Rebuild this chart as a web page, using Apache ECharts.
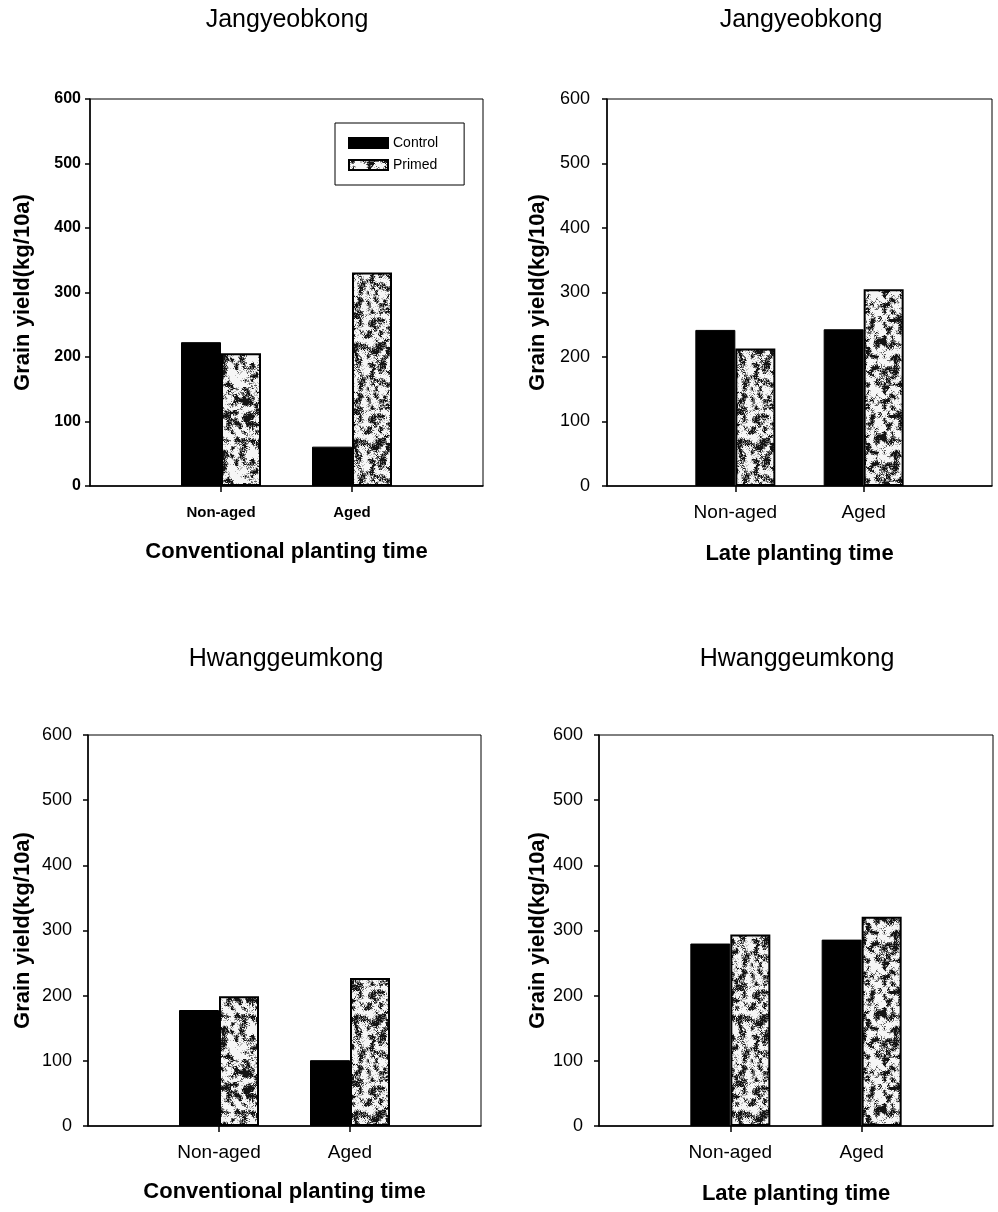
<!DOCTYPE html>
<html>
<head>
<meta charset="utf-8">
<title>Grain yield</title>
<script src="https://cdn.jsdelivr.net/npm/echarts@6/dist/echarts.min.js"></script>
<style>
  html, body { margin: 0; padding: 0; background: #fff; }
  #chart { width: 998px; height: 1212px; }
</style>
</head>
<body>
<div id="chart"></div>
<script>
// Category slots: blank ends keep the two treatment groups at 1/3 and 2/3 of each axis
const categories = ['', 'Non-aged', 'Aged', ''];
const seriesNames = ['Control', 'Primed'];
const yTicks = [0, 100, 200, 300, 400, 500, 600];

const panelTitles = ['Jangyeobkong', 'Jangyeobkong', 'Hwanggeumkong', 'Hwanggeumkong'];
const panelXNames = ['Conventional planting time', 'Late planting time',
                     'Conventional planting time', 'Late planting time'];
const yName = 'Grain yield(kg/10a)';

// Grain yield (kg/10a) for [Non-aged, Aged]
const jangConvControl = [223, 61];
const jangConvPrimed  = [206, 331];
const jangLateControl = [242, 243];
const jangLatePrimed  = [213, 305];
const hwangConvControl = [178, 101];
const hwangConvPrimed  = [199, 227];
const hwangLateControl = [280, 286];
const hwangLatePrimed  = [294, 321];

const panelControl = [jangConvControl, jangLateControl, hwangConvControl, hwangLateControl];
const panelPrimed  = [jangConvPrimed, jangLatePrimed, hwangConvPrimed, hwangLatePrimed];

// Speckled fill used for the primed bars (deterministic hash noise)
function makeSpeckle() {
  const S = 96, cell = 4, n = S / cell;
  const c = document.createElement('canvas');
  c.width = c.height = S;
  const ctx = c.getContext('2d');
  const img = ctx.createImageData(S, S);
  function hash(x, y, s) {
    let h = Math.imul(x, 374761393) + Math.imul(y, 668265263) + Math.imul(s, 2246822519);
    h = Math.imul(h ^ (h >>> 13), 1274126177);
    h = h ^ (h >>> 16);
    return (h >>> 0) / 4294967296;
  }
  function coarse(x, y) {
    const gx = x / cell, gy = y / cell;
    const x0 = Math.floor(gx), y0 = Math.floor(gy);
    const fx = gx - x0, fy = gy - y0;
    const a = hash(x0 % n, y0 % n, 1), b = hash((x0 + 1) % n, y0 % n, 1);
    const c2 = hash(x0 % n, (y0 + 1) % n, 1), d = hash((x0 + 1) % n, (y0 + 1) % n, 1);
    return (a * (1 - fx) + b * fx) * (1 - fy) + (c2 * (1 - fx) + d * fx) * fy;
  }
  for (let y = 0; y < S; y++) {
    for (let x = 0; x < S; x++) {
      const v = coarse(x, y) * 0.7 + hash(x, y, 7) * 0.3;
      let g;
      if (v > 0.62) g = 20;
      else if (v > 0.52) g = 100;
      else if (v > 0.45) g = 190;
      else g = 246;
      const i = (y * S + x) * 4;
      img.data[i] = img.data[i + 1] = img.data[i + 2] = g;
      img.data[i + 3] = 255;
    }
  }
  ctx.putImageData(img, 0, 0);
  return c;
}
const speckle = makeSpeckle();

const font = '"Liberation Sans", Arial, Helvetica, sans-serif';

const grids = [
  { left: 90,  top: 99,  width: 393, height: 387 },
  { left: 607, top: 99,  width: 385, height: 387 },
  { left: 88,  top: 735, width: 393, height: 391 },
  { left: 599, top: 735, width: 394, height: 391 }
];
const titlePos = [
  { x: 287, y: 8 }, { x: 801, y: 8 }, { x: 286, y: 647 }, { x: 797, y: 647 }
];
// first panel uses bold, smaller tick labels
const yLabelStyle = [
  { fontWeight: 'bold', fontSize: 16, margin: 9 },
  { fontWeight: 'normal', fontSize: 18, margin: 17 },
  { fontWeight: 'normal', fontSize: 18, margin: 16 },
  { fontWeight: 'normal', fontSize: 18, margin: 16 }
];
const xLabelStyle = [
  { fontWeight: 'bold', fontSize: 15, margin: 19 },
  { fontWeight: 'normal', fontSize: 19, margin: 17 },
  { fontWeight: 'normal', fontSize: 19, margin: 17 },
  { fontWeight: 'normal', fontSize: 19, margin: 17 }
];
const yNameGap = [56, 58, 54, 50];
const xNameGap = [55, 57, 55, 57];

function pad(vals) { return [null].concat(vals, [null]); }

const option = {
  animation: false,
  backgroundColor: '#fff',
  textStyle: { fontFamily: font, color: '#000' },
  title: panelTitles.map((t, i) => ({
    text: t,
    left: titlePos[i].x,
    top: titlePos[i].y,
    textAlign: 'center',
    padding: 0,
    textStyle: { fontFamily: font, fontSize: 25, fontWeight: 'normal', color: '#000' }
  })),
  legend: {
    data: seriesNames,
    orient: 'vertical',
    left: 335,
    top: 123,
    itemWidth: 39,
    itemHeight: 10,
    itemGap: 8,
    icon: 'rect',
    borderColor: '#000',
    borderWidth: 1,
    padding: [13, 26, 13, 13],
    selectedMode: false,
    textStyle: { fontFamily: font, fontSize: 14, color: '#000' }
  },
  grid: grids.map(g => Object.assign({ show: true, borderColor: '#000', borderWidth: 1,
                                       backgroundColor: 'transparent', containLabel: false }, g)),
  xAxis: grids.map((g, i) => ({
    type: 'category',
    gridIndex: i,
    data: categories,
    boundaryGap: false,
    name: panelXNames[i],
    nameLocation: 'middle',
    nameGap: xNameGap[i],
    nameTextStyle: { fontFamily: font, fontSize: 22, fontWeight: 'bold', color: '#000' },
    axisLine: { show: true, lineStyle: { color: '#000', width: 1.5 } },
    axisTick: { show: true, length: 6, inside: false,
                interval: (idx) => idx === 1 || idx === 2,
                lineStyle: { color: '#000', width: 1.5 } },
    axisLabel: Object.assign({ interval: 0, color: '#000', fontFamily: font }, xLabelStyle[i]),
    splitLine: { show: false }
  })),
  yAxis: grids.map((g, i) => ({
    type: 'value',
    gridIndex: i,
    min: yTicks[0],
    max: yTicks[yTicks.length - 1],
    interval: yTicks[1] - yTicks[0],
    name: yName,
    nameLocation: 'middle',
    nameGap: yNameGap[i],
    nameTextStyle: { fontFamily: font, fontSize: 22, fontWeight: 'bold', color: '#000' },
    axisLine: { show: true, lineStyle: { color: '#000', width: 1.5 } },
    axisTick: { show: true, length: 5, inside: false, lineStyle: { color: '#000', width: 1.5 } },
    axisLabel: Object.assign({ color: '#000', fontFamily: font }, yLabelStyle[i]),
    splitLine: { show: false }
  })),
  series: []
};

grids.forEach((g, i) => {
  option.series.push({
    name: seriesNames[0],
    type: 'bar',
    xAxisIndex: i,
    yAxisIndex: i,
    data: pad(panelControl[i]),
    barWidth: 40,
    barGap: '0%',
    itemStyle: { color: '#000', borderColor: '#000', borderWidth: 1 }
  });
  option.series.push({
    name: seriesNames[1],
    type: 'bar',
    xAxisIndex: i,
    yAxisIndex: i,
    data: pad(panelPrimed[i]),
    barWidth: 40,
    barGap: '0%',
    itemStyle: { color: { image: speckle, repeat: 'repeat' }, borderColor: '#000', borderWidth: 2 }
  });
});

const chart = echarts.init(document.getElementById('chart'), null, { renderer: 'canvas' });
chart.setOption(option);
</script>
</body>
</html>
